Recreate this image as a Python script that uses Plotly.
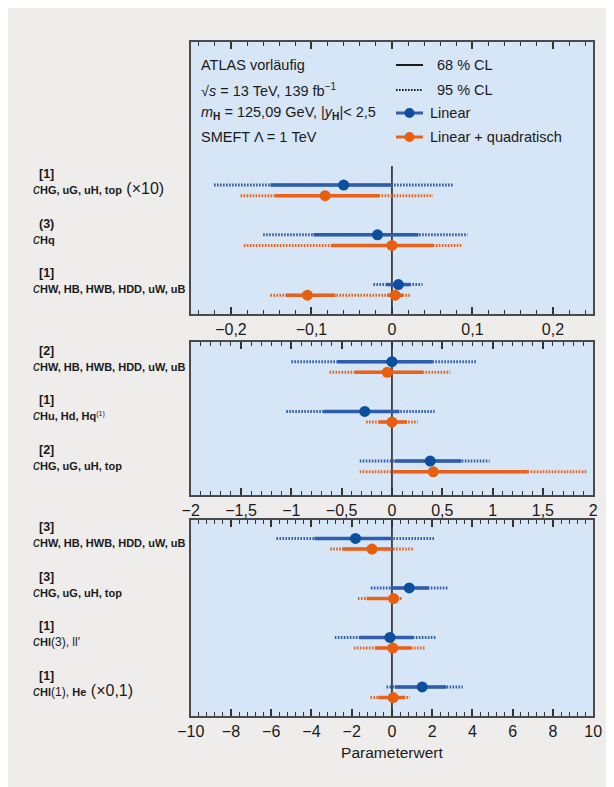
import plotly.graph_objects as go

W, H = 614, 787

# ---------------- data (rows listed top to bottom) ----------------
# Panel 1
p1_sup = ["[1]", "(3)", "[1]"]
p1_names = ["<b>HG, uG, uH, top</b><span style='font-size:16px'> (×10)</span>",
            "<b>Hq</b>",
            "<b>HW, HB, HWB, HDD, uW, uB</b>"]
p1_lin_best = [[-0.060], [-0.018], [0.008]]
p1_lin_68 = [[(-0.151, 0.0)], [(-0.0975, 0.033)], [(-0.007, 0.023)]]
p1_lin_95 = [(-0.221, 0.077), (-0.160, 0.094), (-0.023, 0.038)]
p1_quad_best = [[-0.083], [0.0], [-0.105, 0.004]]
p1_quad_68 = [[(-0.145, -0.016)], [(-0.0756, 0.051)], [(-0.132, -0.070), (-0.006, 0.014)]]
p1_quad_95 = [(-0.188, 0.051), (-0.184, 0.086), (-0.151, 0.023)]

# Panel 2
p2_sup = ["[2]", "[1]", "[2]"]
p2_names = ["<b>HW, HB, HWB, HDD, uW, uB</b>",
            "<b>Hu, Hd, Hq</b><span style='font-size:10px'><sup>(1)</sup></span>",
            "<b>HG, uG, uH, top</b>"]
p2_lin_best = [[0.0], [-0.27], [0.38]]
p2_lin_68 = [[(-0.54, 0.405)], [(-0.68, 0.074)], [(0.027, 0.69)]]
p2_lin_95 = [(-1.0, 0.845), (-1.05, 0.424), (-0.32, 0.97)]
p2_quad_best = [[-0.047], [0.0], [0.41]]
p2_quad_68 = [[(-0.366, 0.307)], [(-0.128, 0.15)], [(0.016, 1.35)]]
p2_quad_95 = [(-0.62, 0.58), (-0.257, 0.257), (-0.32, 1.94)]

# Panel 3
p3_sup = ["[3]", "[3]", "[1]", "[1]"]
p3_names = ["<b>HW, HB, HWB, HDD, uW, uB</b>",
            "<b>HG, uG, uH, top</b>",
            "<b>Hl</b><span style='font-size:12px'>(3), ll′</span>",
            "<b>Hl</b><span style='font-size:12px'>(1), </span><b>He</b><span style='font-size:16px'> (×0,1)</span>"]
p3_lin_best = [[-1.81], [0.86], [-0.1], [1.5]]
p3_lin_68 = [[(-3.85, 0.0)], [(-0.06, 1.83)], [(-1.61, 1.05)], [(0.14, 2.7)]]
p3_lin_95 = [(-5.74, 2.12), (-1.05, 2.76), (-2.84, 2.22), (-0.27, 3.52)]
p3_quad_best = [[-0.99], [0.08], [0.04], [0.06]]
p3_quad_68 = [[(-2.45, -0.05)], [(-1.26, 0.37)], [(-0.84, 0.95)], [(-0.68, 0.66)]]
p3_quad_95 = [(-3.07, 1.11), (-1.69, 0.53), (-1.89, 1.63), (-1.07, 0.89)]

x_ranges = [(-0.25, 0.25), (-2, 2), (-10, 10)]
x_dticks = [0.1, 0.5, 2]
x_minor = [0.02, 0.1, 0.4]

legend_info = ["ATLAS vorläufig",
               "√<i>s</i> = 13 TeV, 139 fb<sup>−1</sup>",
               "<i>m</i><sub><b>H</b></sub> = 125,09 GeV, |<i>y</i><sub><b>H</b></sub>|< 2,5",
               "SMEFT Λ = 1 TeV"]
legend_items = ["68 % CL", "95 % CL", "Linear", "Linear + quadratisch"]

# ---------------- style ----------------
BLUE_L, BLUE_M = "#2f5dab", "#0b4f9e"
ORNG_L, ORNG_M = "#e8621c", "#e8600f"
PANEL_BG = "#d6e6f7"
PAPER_BG = "#eeedeb"
FRAME = "#4a4a4a"
FONT = "Liberation Sans, Arial, sans-serif"
OFF = 0.107
PAGE = 8  # page offset of the figure (body margin)


def fx(xp):
    """page pixel x -> paper fraction"""
    return (xp - PAGE) / W


def fy(yp):
    """page pixel y -> paper fraction"""
    return 1 - (yp - PAGE) / H


# panel pixel boxes (page coords) and y ranges (row index units)
X0, X1 = 190.7, 593.2
panel_px = [(42, 314), (342, 495), (520, 716)]
y_ranges = [(2.484, -2.98), (2.575, -0.503), (3.479, -0.479)]

fig = go.Figure()

panels = [
    (p1_lin_best, p1_lin_68, p1_lin_95, p1_quad_best, p1_quad_68, p1_quad_95),
    (p2_lin_best, p2_lin_68, p2_lin_95, p2_quad_best, p2_quad_68, p2_quad_95),
    (p3_lin_best, p3_lin_68, p3_lin_95, p3_quad_best, p3_quad_68, p3_quad_95),
]

for k, (lb, l68, l95, qb, q68, q95) in enumerate(panels):
    xa = "x" if k == 0 else f"x{k+1}"
    ya = "y" if k == 0 else f"y{k+1}"
    for best, c68, c95, off, lc, mc in [(lb, l68, l95, -OFF, BLUE_L, BLUE_M),
                                        (qb, q68, q95, OFF, ORNG_L, ORNG_M)]:
        xs, ys = [], []
        for i, (lo, hi) in enumerate(c95):
            xs += [lo, hi, None]
            ys += [i + off, i + off, None]
        fig.add_trace(go.Scatter(x=xs, y=ys, mode="lines", xaxis=xa, yaxis=ya,
                                 line=dict(color=lc, width=3, dash="1.6px,1.4px"),
                                 showlegend=False, hoverinfo="skip"))
        xs, ys = [], []
        for i, segs in enumerate(c68):
            for lo, hi in segs:
                xs += [lo, hi, None]
                ys += [i + off, i + off, None]
        fig.add_trace(go.Scatter(x=xs, y=ys, mode="lines", xaxis=xa, yaxis=ya,
                                 line=dict(color=lc, width=3.5),
                                 showlegend=False, hoverinfo="skip"))
        xs, ys = [], []
        for i, pts in enumerate(best):
            for p in pts:
                xs.append(p)
                ys.append(i + off)
        fig.add_trace(go.Scatter(x=xs, y=ys, mode="markers", xaxis=xa, yaxis=ya,
                                 marker=dict(color=mc, size=11),
                                 showlegend=False))

layout = dict(
    width=W, height=H, autosize=False,
    margin=dict(l=0, r=0, t=0, b=0, autoexpand=False),
    paper_bgcolor=PAPER_BG, plot_bgcolor=PANEL_BG,
    separators=",.",
    font=dict(family=FONT, size=15, color="#1a1a1a"),
    showlegend=False,
)

shapes = []
annotations = []

for k in range(3):
    sx = "" if k == 0 else str(k + 1)
    top, bot = panel_px[k]
    layout["xaxis" + sx] = dict(
        domain=[fx(X0), fx(X1)], anchor="y" + sx, range=list(x_ranges[k]),
        tick0=0, dtick=x_dticks[k], ticks="inside", ticklen=7, tickwidth=1.6,
        tickcolor="#333333", showline=True, linecolor=FRAME, linewidth=2,
        mirror="allticks", showgrid=False, zeroline=False, automargin=False,
        tickfont=dict(size=16, family=FONT, color="#1a1a1a"),
        minor=dict(dtick=x_minor[k], tick0=0, ticks="inside", ticklen=4,
                   tickwidth=1.2, tickcolor="#333333", showgrid=False),
    )
    layout["yaxis" + sx] = dict(
        domain=[fy(bot), fy(top)], anchor="x" + sx, range=list(y_ranges[k]),
        showline=True, linecolor=FRAME, linewidth=2, mirror=True, ticks="",
        showticklabels=False, showgrid=False, zeroline=False, automargin=False,
    )
    y0 = -0.49 if k == 0 else y_ranges[k][1]
    shapes.append(dict(type="line", xref="x" + sx, yref="y" + sx, x0=0, x1=0,
                       y0=y0, y1=y_ranges[k][0], layer="below",
                       line=dict(color="#1a1a1a", width=1.5)))

layout["xaxis3"]["title"] = dict(text="Parameterwert", font=dict(size=15.5, family=FONT), standoff=8)

# row labels
all_sup = [p1_sup, p2_sup, p3_sup]
all_names = [p1_names, p2_names, p3_names]
for k in range(3):
    ya = "y" if k == 0 else f"y{k+1}"
    for i, (s, n) in enumerate(zip(all_sup[k], all_names[k])):
        annotations.append(dict(xref="paper", yref=ya, x=fx(37), y=i, yshift=16.5,
                                xanchor="left", yanchor="middle", showarrow=False,
                                text=f"<b>{s}</b>", font=dict(size=12.5, family=FONT)))
        annotations.append(dict(xref="paper", yref=ya, x=fx(31), y=i, yshift=1.5,
                                xanchor="left", yanchor="middle", showarrow=False,
                                text=f"<span style='font-size:14px'><i>c</i></span>{n}",
                                font=dict(size=11, family=FONT)))

# legend block in panel 1
leg_y = [65, 90, 113, 137]
for txt, yy in zip(legend_info, leg_y):
    annotations.append(dict(xref="paper", yref="paper", x=fx(199), y=fy(yy),
                            xanchor="left", yanchor="middle", showarrow=False,
                            text=txt, font=dict(size=14.5, family=FONT)))
leg_col = ["#1a1a1a", "#1a1a1a", BLUE_L, ORNG_L]
leg_dash = ["solid", "1.6px,1.4px", "solid", "solid"]
leg_tx = [435, 435, 428, 428]
for i, name in enumerate(legend_items):
    shapes.append(dict(type="line", xref="paper", yref="paper",
                       x0=fx(396), x1=fx(423), y0=fy(leg_y[i]), y1=fy(leg_y[i]),
                       line=dict(color=leg_col[i], width=2 if i < 2 else 3, dash=leg_dash[i])))
    if i >= 2:
        mc = BLUE_M if i == 2 else ORNG_M
        shapes.append(dict(type="circle", xref="paper", yref="paper",
                           x0=fx(404.5), x1=fx(414.5), y0=fy(leg_y[i] - 5), y1=fy(leg_y[i] + 5),
                           fillcolor=mc, line=dict(width=0)))
    annotations.append(dict(xref="paper", yref="paper", x=fx(leg_tx[i]), y=fy(leg_y[i]),
                            xanchor="left", yanchor="middle", showarrow=False,
                            text=name, font=dict(size=14.5, family=FONT)))

layout["shapes"] = shapes
layout["annotations"] = annotations
fig.update_layout(**layout)
fig.write_html("out.html")
